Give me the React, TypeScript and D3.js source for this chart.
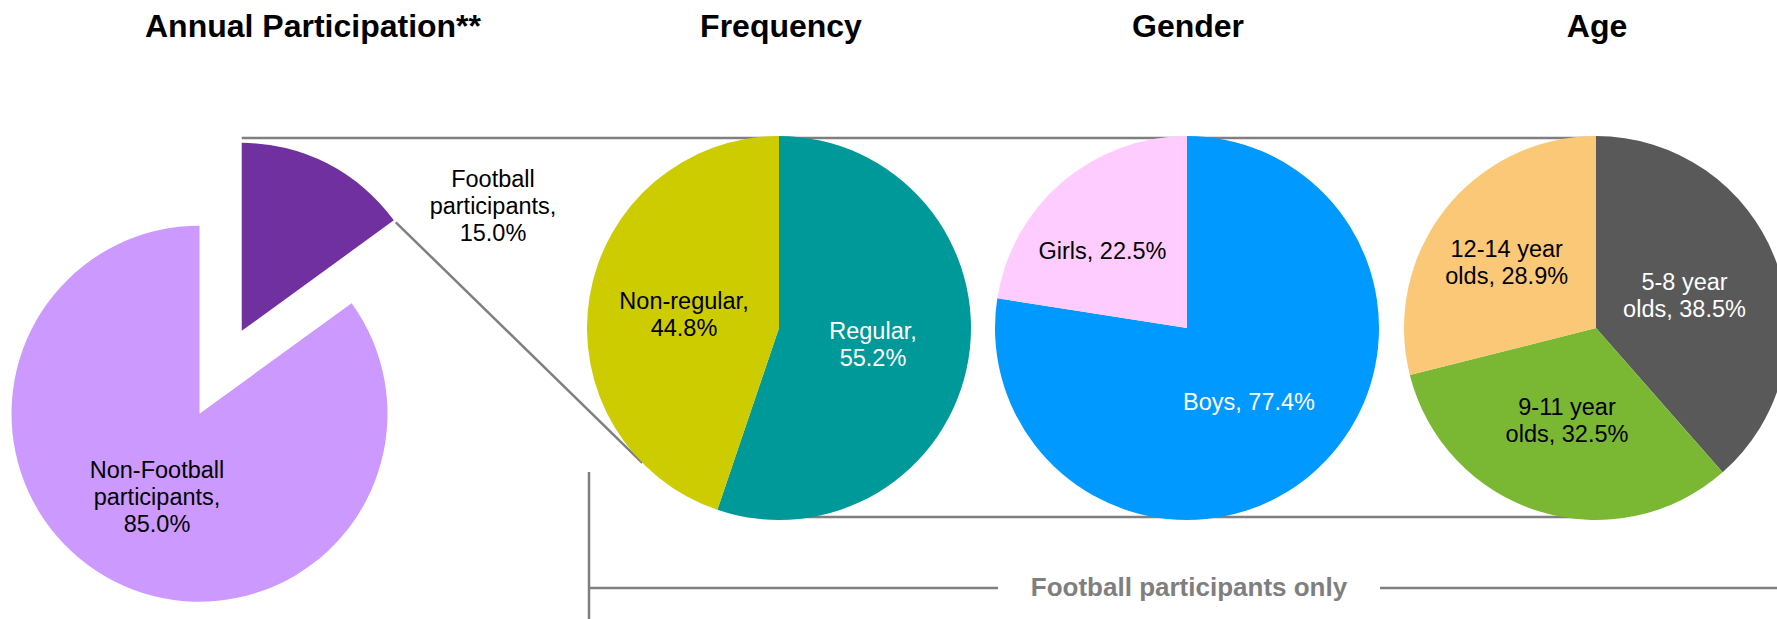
import React from 'react'
import * as d3 from 'd3'

// ---- data ----
const annualNames = ['Football\nparticipants', 'Non-Football\nparticipants']
const annualValues = [15.0, 85.0]
const annualColors = ['#7030A0', '#CC99FF']

const freqNames = ['Regular', 'Non-regular']
const freqValues = [55.2, 44.8]
const freqColors = ['#009999', '#CCCC00']

const genderNames = ['Boys', 'Girls']
const genderValues = [77.4, 22.5]
const genderColors = ['#0099FF', '#FFCCFF']

const ageNames = ['5-8 year\nolds', '9-11 year\nolds', '12-14 year\nolds']
const ageValues = [38.5, 32.5, 28.9]
const ageColors = ['#595959', '#7AB833', '#FAC876']

const titles = ['Annual Participation**', 'Frequency', 'Gender', 'Age']
const bracketText = 'Football participants only'

// ---- layout ----
const W = 1777
const H = 619
const FONT = "'Liberation Sans', Arial, sans-serif"
const LINE = '#7F7F7F'
const lineH = 27
const labelSize = 23.5

const annual = { cx: 199.5, cy: 413.7, r: 188, explode: 93 }
const secR = 192
const secCy = 328
const freqCx = 779
const genderCx = 1187
const ageCx = 1596
const titleX = [313, freqCx + 2, genderCx + 1, ageCx + 1]

// label anchors relative to the pie centre (px)
const annualLabelPos = [[293.5, -208], [-42.5, 83.3]]
const freqLabelPos = [[94, 16.5], [-95, -14]]
const genderLabelPos = [[62, 74], [-84.5, -77]]
const ageLabelPos = [[88.5, -32.5], [-29, 92.4], [-89.3, -66]]

const pct = (v: number) => v.toFixed(1) + '%'

const pie = d3.pie<number>().sort(null).value(d => d)

function labelLines(name: string, v: number, pctOwnLine: boolean) {
  const parts = name.split('\n')
  if (pctOwnLine) return [...parts.slice(0, -1), parts[parts.length - 1] + ',', pct(v)]
  parts[parts.length - 1] = parts[parts.length - 1] + ', ' + pct(v)
  return parts
}

function Label({ x, y, lines, fill }: { x: number; y: number; lines: string[]; fill: string }) {
  const first = y - ((lines.length - 1) * lineH) / 2 + 8
  return (
    <text x={x} y={first} textAnchor="middle" fontFamily={FONT} fontSize={labelSize} fill={fill}>
      {lines.map((l, i) => (
        <tspan key={i} x={x} dy={i === 0 ? 0 : lineH}>{l}</tspan>
      ))}
    </text>
  )
}

function SecondaryPie({ cx, names, values, colors, pos, pctOwnLine, textColors }: any) {
  const arcs = pie(values)
  const arc = d3.arc<d3.PieArcDatum<number>>().innerRadius(0).outerRadius(secR)
  return (
    <g transform={`translate(${cx},${secCy})`}>
      {arcs.map((a, i) => (
        <path key={i} d={arc(a) || ''} fill={colors[i]} />
      ))}
      {arcs.map((a, i) => (
        <Label key={'l' + i} x={pos[i][0]} y={pos[i][1]}
          lines={labelLines(names[i], values[i], pctOwnLine)} fill={textColors[i]} />
      ))}
    </g>
  )
}

export default function App() {
  const annualArcs = pie(annualValues)
  const aArc = d3.arc<d3.PieArcDatum<number>>().innerRadius(0).outerRadius(annual.r)
  const fb = annualArcs[0]
  const mid = (fb.startAngle + fb.endAngle) / 2
  const off = [Math.sin(mid) * annual.explode, -Math.cos(mid) * annual.explode]
  const apex = [annual.cx + off[0], annual.cy + off[1]]
  const corner = [apex[0] + Math.sin(fb.endAngle) * annual.r, apex[1] - Math.cos(fb.endAngle) * annual.r]
  const tangentA = (225.4 * Math.PI) / 180
  const diagEnd = [freqCx + Math.sin(tangentA) * secR, secCy - Math.cos(tangentA) * secR]
  const topY = secCy - secR + 2
  const botY = secCy + secR - 3

  const bracketY = 588
  const bracketX = freqCx - secR + 2
  const gap = 191

  return (
    <svg width={W} height={H} style={{ position: 'absolute', left: 0, top: 0, background: '#fff' }}>
      {/* titles */}
      {titles.map((t, i) => (
        <text key={t} x={titleX[i]} y={37} textAnchor="middle" fontFamily={FONT}
          fontWeight="bold" fontSize={32} fill="#000">{t}</text>
      ))}

      {/* connector lines */}
      <g stroke={LINE} strokeWidth={2.5} fill="none">
        <line x1={apex[0]} y1={topY} x2={ageCx} y2={topY} />
        <line x1={freqCx} y1={botY} x2={ageCx} y2={botY} />
        <line x1={corner[0] + 2} y1={corner[1] + 2} x2={diagEnd[0]} y2={diagEnd[1]} />
      </g>

      {/* annual pie with exploded football slice */}
      <g transform={`translate(${annual.cx},${annual.cy})`}>
        <path d={aArc(annualArcs[1]) || ''} fill={annualColors[1]} />
        <path d={aArc(fb) || ''} fill={annualColors[0]} transform={`translate(${off[0]},${off[1]})`} />
        {annualArcs.map((a, i) => (
          <Label key={i} x={annualLabelPos[i][0]} y={annualLabelPos[i][1]}
            lines={labelLines(annualNames[i], annualValues[i], true)} fill="#000" />
        ))}
      </g>

      <SecondaryPie cx={freqCx} names={freqNames} values={freqValues} colors={freqColors}
        pos={freqLabelPos} pctOwnLine={true} textColors={['#fff', '#000']} />
      <SecondaryPie cx={genderCx} names={genderNames} values={genderValues} colors={genderColors}
        pos={genderLabelPos} pctOwnLine={false} textColors={['#fff', '#000']} />
      <SecondaryPie cx={ageCx} names={ageNames} values={ageValues} colors={ageColors}
        pos={ageLabelPos} pctOwnLine={false} textColors={['#fff', '#000', '#000']} />

      {/* bracket */}
      <g stroke={LINE} strokeWidth={2.5}>
        <line x1={bracketX} y1={472} x2={bracketX} y2={H} />
        <line x1={bracketX} y1={bracketY} x2={genderCx + 2 - gap} y2={bracketY} />
        <line x1={genderCx + 2 + gap} y1={bracketY} x2={W} y2={bracketY} />
      </g>
      <text x={genderCx + 2} y={bracketY + 8} textAnchor="middle" fontFamily={FONT}
        fontWeight="bold" fontSize={26} fill={LINE}>{bracketText}</text>
    </svg>
  )
}
